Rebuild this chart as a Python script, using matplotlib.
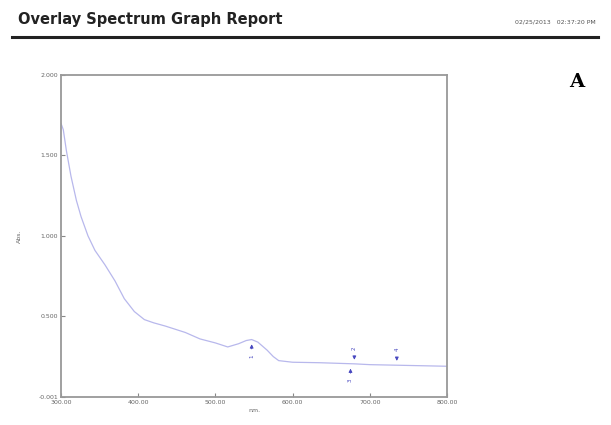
import numpy as np
import matplotlib.pyplot as plt

# spectrum
wavelength = [300, 303, 307, 313, 320, 326, 335, 344, 357, 370, 382, 395, 408, 420,
              435, 461, 480, 500, 516, 530, 540, 547, 555, 567, 575, 582, 600, 635,
              680, 700, 750, 800]
absorbance = [1.70, 1.66, 1.53, 1.37, 1.22, 1.12, 1.00, 0.91, 0.82, 0.72, 0.61, 0.53,
              0.48, 0.46, 0.44, 0.40, 0.36, 0.335, 0.31, 0.33, 0.35, 0.356, 0.34,
              0.29, 0.25, 0.225, 0.215, 0.212, 0.205, 0.20, 0.195, 0.19]

# peak / valley markers: wavelength, absorbance, direction, label
marker_nm = [547, 675, 680, 735]
marker_abs = [0.356, 0.205, 0.205, 0.198]
marker_up = [True, True, False, False]
marker_labels = ["1", "3", "2", "4"]

xticks = [300, 400, 500, 600, 700, 800]
yticks = [-0.001, 0.5, 1.0, 1.5, 2.0]

fig = plt.figure(figsize=(6.11, 4.25), dpi=100)

# header
fig.text(0.03, 0.955, "Overlay Spectrum Graph Report", fontsize=10.5, fontweight="bold",
         color="#222222", va="center", ha="left")
fig.text(0.975, 0.948, "02/25/2013   02:37:20 PM", fontsize=4.5, color="#555555",
         va="center", ha="right")
fig.add_artist(plt.Line2D([0.02, 0.978], [0.913, 0.913], color="#222222", lw=2.2))
fig.text(0.944, 0.806, "A", fontsize=14, fontweight="bold", family="DejaVu Serif",
         va="center", ha="center")

ax = fig.add_axes([0.0998, 0.0659, 0.6318, 0.7576])
ax.plot(wavelength, absorbance, color="#b8b8ec", lw=0.9)

for nm, a, up, lab in zip(marker_nm, marker_abs, marker_up, marker_labels):
    if up:
        ax.annotate("", xy=(nm, a - 0.012), xytext=(nm, a - 0.075),
                    arrowprops=dict(arrowstyle="-|>", color="#4848c0", lw=0.7,
                                    mutation_scale=5))
        ax.text(nm, a - 0.105, lab, fontsize=4, color="#4848c0", rotation=90,
                ha="center", va="center")
    else:
        ax.annotate("", xy=(nm, a + 0.008), xytext=(nm, a + 0.065),
                    arrowprops=dict(arrowstyle="-|>", color="#4848c0", lw=0.7,
                                    mutation_scale=5))
        ax.text(nm, a + 0.1, lab, fontsize=4, color="#4848c0", rotation=90,
                ha="center", va="center")

ax.set_xlim(300, 800)
ax.set_ylim(-0.001, 2.0)
ax.set_xticks(xticks)
ax.set_xticklabels([f"{t:.2f}" for t in xticks])
ax.set_yticks(yticks)
ax.set_yticklabels([f"{t:.3f}" for t in yticks])
ax.tick_params(direction="in", length=3, width=0.8, colors="#888888",
               labelsize=4.5, labelcolor="#666666", pad=2)
for s in ax.spines.values():
    s.set_color("#999999")
    s.set_linewidth(1.3)
ax.set_xlabel("nm.", fontsize=4.5, color="#666666", labelpad=2)
ax.set_ylabel("Abs.", fontsize=4.5, color="#666666", labelpad=12)

fig.savefig("out.png", dpi=100)
